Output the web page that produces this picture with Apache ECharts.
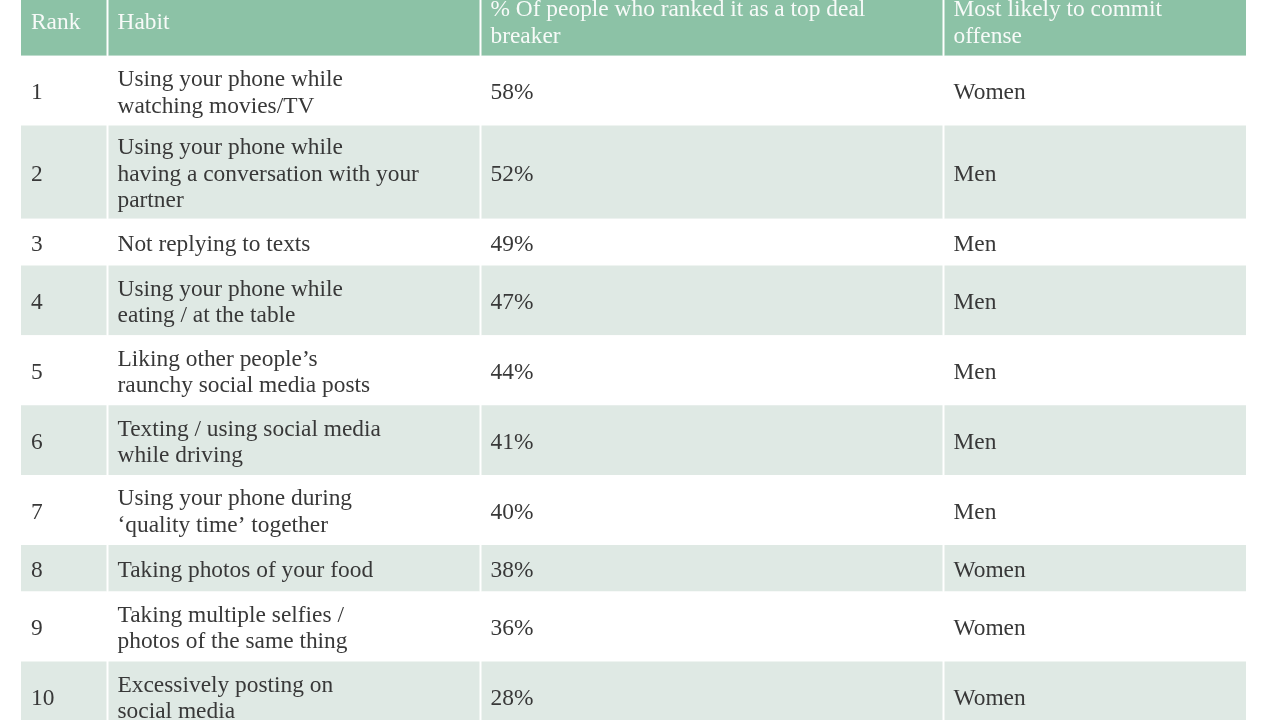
<!DOCTYPE html>
<html>
<head>
<meta charset="utf-8">
<script src="https://cdn.jsdelivr.net/npm/echarts@6/dist/echarts.min.js"></script>
<style>
html,body{margin:0;padding:0;background:#fff;}
#chart{width:1280px;height:720px;}
</style>
</head>
<body>
<div id="chart"></div>
<script>
// ---- data ----
const headers = ['Rank', 'Habit', '% Of people who ranked it as a top deal\nbreaker', 'Most likely to commit\noffense'];
const ranks = [1, 2, 3, 4, 5, 6, 7, 8, 9, 10];
const habits = [
  'Using your phone while\nwatching movies/TV',
  'Using your phone while\nhaving a conversation with your\npartner',
  'Not replying to texts',
  'Using your phone while\neating / at the table',
  'Liking other people\u2019s\nraunchy social media posts',
  'Texting / using social media\nwhile driving',
  'Using your phone during\n\u2018quality time\u2019 together',
  'Taking photos of your food',
  'Taking multiple selfies /\nphotos of the same thing',
  'Excessively posting on\nsocial media'
];
const percentages = [58, 52, 49, 47, 44, 41, 40, 38, 36, 28];
const mostLikely = ['Women', 'Men', 'Men', 'Men', 'Men', 'Men', 'Men', 'Women', 'Women', 'Women'];

// ---- layout ----
const COL_WIDTHS = [86.5, 373, 463, 303.5];
const UNIT_PX = 23.3;
const SCROLL_PX = 14.2;
const TEXT_DY = 2.5;
const colStart = [];
COL_WIDTHS.reduce((a, w, i) => { colStart[i] = a; return a + w; }, 0);
const totalW = COL_WIDTHS.reduce((a, b) => a + b, 0);

const rowUnits = [3].concat(habits.map(h => h.split('\n').length + 1));
const rowStart = [];
rowUnits.reduce((a, u, i) => { rowStart[i] = a; return a + u; }, 0);

function cellText(c, r) {
  if (r === 0) return headers[c];
  const i = r - 1;
  return [String(ranks[i]), habits[i], percentages[i] + '%', mostLikely[i]][c];
}

const cells = [];
for (let r = 0; r <= ranks.length; r++) {
  for (let c = 0; c < headers.length; c++) cells.push([c, r]);
}

const HEADER_BG = '#8cc2a6';
const SHADE_BG = '#dfe9e4';
const TEXT_COLOR = '#383838';

const yMin = SCROLL_PX / UNIT_PX;
const yMax = yMin + 720 / UNIT_PX;

const chart = echarts.init(document.getElementById('chart'), null, {renderer: 'canvas'});
chart.setOption({
  animation: false,
  grid: {left: 21, right: 33, top: 0, bottom: 0, outerBoundsMode: 'none'},
  xAxis: {type: 'value', min: 0, max: totalW, show: false},
  yAxis: {type: 'value', min: yMin, max: yMax, inverse: true, show: false},
  series: [{
    type: 'custom',
    clip: false,
    data: cells,
    renderItem: function (params, api) {
      const c = api.value(0), r = api.value(1);
      const p0 = api.coord([colStart[c], rowStart[r]]);
      const p1 = api.coord([colStart[c] + COL_WIDTHS[c], rowStart[r] + rowUnits[r]]);
      const x0 = Math.min(p0[0], p1[0]), x1 = Math.max(p0[0], p1[0]);
      const y0 = Math.min(p0[1], p1[1]), y1 = Math.max(p0[1], p1[1]);
      let fill = '#ffffff';
      if (r === 0) fill = HEADER_BG;
      else if (r % 2 === 0) fill = SHADE_BG;
      const isHeader = r === 0;
      return {
        type: 'group',
        children: [
          {
            type: 'rect',
            shape: {x: x0 + (c === 0 ? 0 : 1), y: y0, width: x1 - x0 - (c === 0 ? 1 : 2), height: y1 - y0},
            style: {fill: fill}
          },
          {
            type: 'text',
            style: {
              text: cellText(c, r),
              x: x0 + 10,
              y: (y0 + y1) / 2 + TEXT_DY,
              verticalAlign: 'middle',
              align: 'left',
              fontFamily: '"Liberation Serif", "Times New Roman", serif',
              fontSize: 23.4,
              lineHeight: 26.5,
              fill: isHeader ? '#f7faf8' : TEXT_COLOR
            }
          }
        ]
      };
    }
  }]
});
</script>
</body>
</html>
